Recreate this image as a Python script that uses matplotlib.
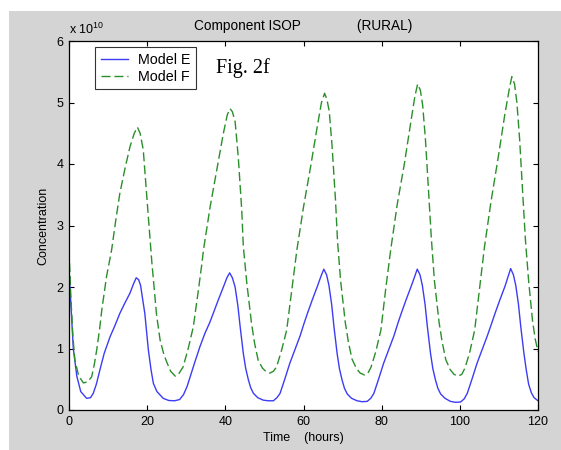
import matplotlib
matplotlib.use('Agg')
import matplotlib.pyplot as plt
from matplotlib.patches import Rectangle

plt.rcParams['font.family'] = ['Liberation Sans', 'DejaVu Sans']
plt.rcParams['mathtext.fontset'] = 'custom'
plt.rcParams['mathtext.rm'] = 'Liberation Sans'

# Model E (solid blue), concentration in units of 1e10
t_E = [0, 0.5, 1.1, 2.0, 3.0, 4.5, 5.5, 6.2, 7.0, 7.9, 9.0, 10.5, 11.8, 13.0, 14.3,
       15.6, 16.5, 17.2, 17.8, 18.3, 19.4, 20.3, 21.0, 21.6, 22.5, 24.1, 25.5, 27.0,
       28.3, 29.3, 30.2, 31.0, 32.2, 33.5, 34.8, 36.0, 36.9, 38.2, 39.5, 40.4, 41.1,
       41.8, 42.5, 43.2, 43.8, 44.6, 45.2, 45.9, 46.5, 47.2, 48.3, 49.7, 51.0, 52.3,
       53.2, 54.0, 55.2, 56.5, 57.8, 59.1, 60.2, 61.0, 62.3, 63.6, 64.5, 65.2, 65.9,
       66.5, 67.2, 67.8, 68.6, 69.2, 69.9, 70.5, 71.2, 72.3, 73.7, 75.0, 76.3, 77.2,
       78.0, 79.2, 80.5, 81.8, 83.1, 84.2, 85.0, 86.3, 87.6, 88.5, 89.1, 89.8, 90.4,
       91.1, 91.7, 92.5, 93.1, 93.8, 94.4, 95.1, 96.2, 97.6, 98.9, 100.2, 101.1, 101.9,
       103.1, 104.4, 105.7, 107.0, 108.2, 109.0, 110.3, 111.6, 112.4, 113.0, 113.7,
       114.3, 115.0, 115.6, 116.4, 117.0, 117.6, 118.3, 119.0, 120.0]
conc_E = [2.3, 1.7, 1.0, 0.55, 0.3, 0.19, 0.2, 0.27, 0.42, 0.65, 0.92, 1.19, 1.38, 1.57, 1.74,
          1.9, 2.05, 2.15, 2.12, 2.03, 1.57, 0.98, 0.65, 0.43, 0.3, 0.19, 0.155, 0.15,
          0.17, 0.25, 0.38, 0.54, 0.78, 1.03, 1.25, 1.42, 1.57, 1.79, 2.0, 2.15, 2.23,
          2.15, 2.0, 1.7, 1.35, 0.92, 0.68, 0.49, 0.36, 0.27, 0.2, 0.16, 0.15, 0.15,
          0.2, 0.27, 0.5, 0.76, 0.98, 1.2, 1.42, 1.57, 1.8, 2.02, 2.18, 2.29, 2.2,
          2.03, 1.72, 1.35, 0.92, 0.67, 0.48, 0.35, 0.26, 0.19, 0.15, 0.135, 0.14, 0.19,
          0.27, 0.5, 0.76, 0.98, 1.2, 1.42, 1.57, 1.8, 2.02, 2.18, 2.29, 2.2, 2.03,
          1.72, 1.35, 0.92, 0.67, 0.48, 0.35, 0.26, 0.19, 0.14, 0.125, 0.13, 0.18, 0.27,
          0.5, 0.76, 0.98, 1.2, 1.42, 1.57, 1.8, 2.02, 2.18, 2.3, 2.2,
          2.03, 1.72, 1.35, 0.92, 0.65, 0.42, 0.28, 0.2, 0.15]

# Model F (dashed green)
t_F = [0, 0.5, 1.0, 1.5, 2.5, 3.7, 4.8, 5.8, 6.5, 7.1, 7.8, 8.4, 9.6, 10.9, 12.0, 13.0,
       14.3, 15.6, 16.7, 17.5, 18.2, 19.0, 20.3, 21.2, 22.4, 23.3, 24.2, 25.0, 26.0,
       27.2, 28.0, 29.2, 30.5, 31.8, 33.0, 34.0, 34.4, 36.1, 37.8, 39.5, 40.5, 41.2,
       41.8, 42.5, 43.3, 44.2, 44.6, 45.5, 46.7, 47.5, 48.4, 49.5, 50.5, 51.4, 52.3,
       53.1, 54.3, 55.7, 57.0, 58.3, 60.0, 61.8, 63.5, 64.6, 65.4, 66.0, 66.6, 67.3,
       68.2, 68.7, 69.5, 70.7, 71.5, 72.4, 73.5, 74.5, 75.6, 76.5, 77.3, 78.5, 79.8,
       81.0, 82.3, 84.0, 85.8, 87.5, 88.5, 89.2, 89.9, 90.5, 91.2, 92.1, 92.7, 93.5,
       94.7, 95.5, 96.4, 97.5, 98.5, 99.6, 100.5, 101.3, 102.5, 103.8, 105.0, 106.3,
       108.0, 109.8, 111.5, 112.6, 113.3, 114.0, 114.6, 115.3, 116.2, 116.8, 117.6,
       118.6, 119.3, 120.0]
conc_F = [2.6, 1.8, 1.2, 0.81, 0.55, 0.44, 0.46, 0.54, 0.75, 0.98, 1.3, 1.63, 2.17, 2.6, 3.1, 3.52,
          3.92, 4.28, 4.5, 4.6, 4.5, 4.23, 3.14, 2.4, 1.55, 1.14, 0.92, 0.78, 0.63,
          0.55, 0.58, 0.7, 1.0, 1.35, 1.9, 2.38, 2.6, 3.3, 3.9, 4.5, 4.8, 4.9,
          4.85, 4.69, 4.12, 3.25, 2.66, 2.06, 1.41, 1.08, 0.81, 0.68, 0.62, 0.6, 0.63,
          0.7, 0.95, 1.3, 1.95, 2.6, 3.3, 3.95, 4.6, 5.0, 5.15, 5.05, 4.85, 4.3,
          3.4, 2.75, 2.1, 1.42, 1.1, 0.83, 0.68, 0.6, 0.57, 0.6, 0.7, 0.95, 1.3,
          1.95, 2.6, 3.35, 4.0, 4.7, 5.1, 5.3, 5.2, 4.95, 4.4, 3.45, 2.8, 2.1,
          1.42, 1.1, 0.82, 0.66, 0.58, 0.55, 0.58, 0.68, 0.93, 1.3, 1.95, 2.65,
          3.4, 4.1, 4.8, 5.2, 5.42, 5.3, 5.0, 4.4, 3.4, 2.75, 2.1,
          1.45, 1.15, 0.95]

x_ticks = [0, 20, 40, 60, 80, 100, 120]
y_ticks = [0, 1, 2, 3, 4, 5, 6]

fig = plt.figure(figsize=(5.61, 4.5), dpi=100)
fig.patch.set_facecolor('white')
# grey MATLAB-style figure background
fig.patches.append(Rectangle((9 / 561, 0), 552 / 561, 439 / 450, transform=fig.transFigure,
                             facecolor='#d4d4d4', edgecolor='none', zorder=-10))

ax = fig.add_axes([69 / 561, 40 / 450, 469 / 561, 369 / 450])
ax.set_facecolor('white')

ax.plot(t_E, conc_E, color='#3c3cf5', lw=1.0, label='Model E')
ax.plot(t_F, conc_F, color='#2a8f2a', lw=1.0, linestyle=(0, (6.5, 2.8)), label='Model F')

ax.set_xlim(0, 120)
ax.set_ylim(0, 6)
ax.set_xticks(x_ticks)
ax.set_yticks(y_ticks)
ax.tick_params(direction='in', length=3.5, width=0.8, labelsize=9, top=True, right=True,
               pad=4, colors='black')
for s in ax.spines.values():
    s.set_linewidth(0.9)
    s.set_color('black')

ax.set_title('Component ISOP' + ' ' * 15 + '(RURAL)', fontsize=9.8, pad=8)
ax.set_xlabel('Time    (hours)', fontsize=9, labelpad=3)
ax.set_ylabel('Concentration', fontsize=9, labelpad=5)
ax.text(0.0, 1.012, 'x 10$^{10}$', transform=ax.transAxes, fontsize=9, ha='left', va='bottom')

leg = ax.legend(loc='upper left', bbox_to_anchor=(95 / 561, 1 - 47 / 450),
                bbox_transform=fig.transFigure, fontsize=10.3, frameon=True, fancybox=False,
                borderaxespad=0, handlelength=1.9, handletextpad=0.7, borderpad=0.4,
                labelspacing=0.2)
leg.get_frame().set_edgecolor('black')
leg.get_frame().set_linewidth(0.8)

fig.text(216 / 561, 1 - 68 / 450, 'Fig. 2f', fontsize=14.5, family='Liberation Serif',
         ha='left', va='center')

plt.savefig('out.png', dpi=100)
